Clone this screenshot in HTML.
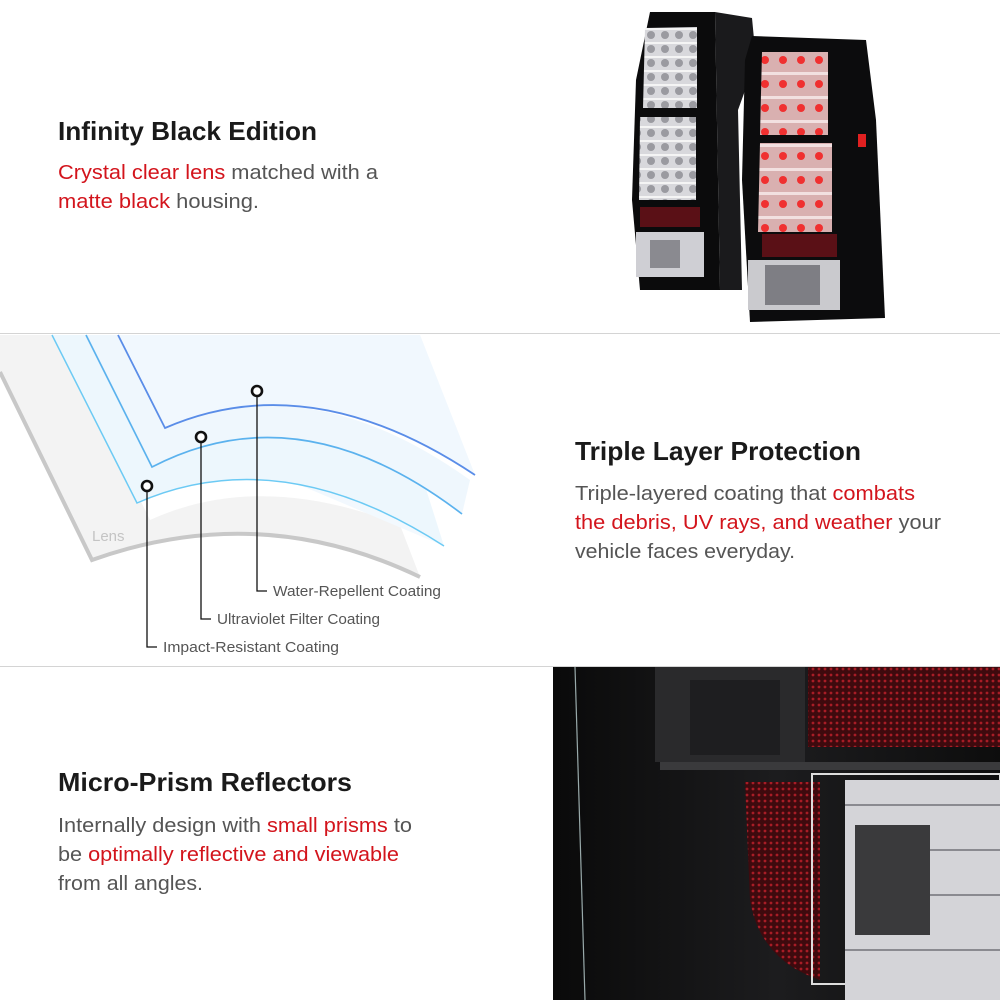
<!DOCTYPE html>
<html><head><meta charset="utf-8"><style>
html,body{margin:0;padding:0;background:#fff}
svg{display:block}
.h{font-family:"Liberation Sans",sans-serif;font-size:26px;font-weight:bold;fill:#1a1a1a}
.b{font-family:"Liberation Sans",sans-serif;font-size:20.5px;fill:#555}
.r{fill:#d3141c}
.l{font-family:"Liberation Sans",sans-serif;font-size:15px;fill:#555}
</style></head><body>
<svg width="1000" height="1000" viewBox="0 0 1000 1000">
<defs>
<linearGradient id="bl" x1="0" y1="0" x2="1" y2="0"><stop offset="0" stop-color="#eaf5fd"/><stop offset="1" stop-color="#f5fafe"/></linearGradient>
<linearGradient id="dk" x1="0" y1="0" x2="1" y2="0"><stop offset="0" stop-color="#0a0a0a"/><stop offset="0.5" stop-color="#1c1c1e"/><stop offset="1" stop-color="#0d0d0d"/></linearGradient>
<pattern id="rd" width="6" height="6" patternUnits="userSpaceOnUse"><rect width="6" height="6" fill="#3e0a0e"/><circle cx="3" cy="3" r="1.4" fill="#a81c26"/></pattern>
<pattern id="cl" width="14" height="14" patternUnits="userSpaceOnUse"><rect width="14" height="14" fill="#d8d8dc"/><circle cx="7" cy="7" r="4" fill="#9a9aa0"/><rect x="0" y="0" width="14" height="2" fill="#f4f4f4"/></pattern>
<pattern id="ld" width="18" height="24" patternUnits="userSpaceOnUse"><rect width="18" height="24" fill="#d9b0b0"/><circle cx="9" cy="12" r="4" fill="#f03030"/><rect y="0" width="18" height="3" fill="#f2e0e0"/></pattern>
</defs>

<text class="h" x="58" y="140" textLength="259" lengthAdjust="spacingAndGlyphs">Infinity Black Edition</text>
<text class="b" x="58" y="179" textLength="320" lengthAdjust="spacingAndGlyphs"><tspan class="r">Crystal clear lens</tspan> matched with a</text>
<text class="b" x="58" y="208" textLength="201" lengthAdjust="spacingAndGlyphs"><tspan class="r">matte black</tspan> housing.</text>

<path d="M650,12 L715,12 L720,290 L640,290 L632,200 L636,80 Z" fill="#0b0b0c"/>
<path d="M715,12 L752,18 L756,60 L738,110 L742,290 L720,290 Z" fill="#1a1a1c"/>
<path d="M645,28 L697,27 L697,108 L643,108 Z" fill="url(#cl)"/>
<path d="M640,117 L696,117 L696,200 L639,200 Z" fill="url(#cl)"/>
<rect x="640" y="207" width="60" height="20" fill="#5a1016"/>
<rect x="636" y="232" width="68" height="45" fill="#cfcfd4"/>
<rect x="650" y="240" width="30" height="28" fill="#8a8a90"/>
<path d="M752,36 L866,40 L876,120 L885,318 L750,322 L742,180 L745,60 Z" fill="#0c0c0d"/>
<path d="M762,52 L828,52 L828,135 L760,135 Z" fill="url(#ld)"/>
<path d="M760,143 L832,143 L832,232 L758,232 Z" fill="url(#ld)"/>
<rect x="858" y="134" width="8" height="13" fill="#e02020"/>
<rect x="762" y="234" width="75" height="23" fill="#5a1016"/>
<rect x="748" y="260" width="92" height="50" fill="#cacace"/>
<rect x="765" y="265" width="55" height="40" fill="#7e7e84"/>

<line x1="0" y1="333.5" x2="1000" y2="333.5" stroke="#d4d4d4" stroke-width="1"/>

<path d="M0,335 L60,335 L150,520 Q260,470 400,525 L420,577 Q260,500 92,560 L0,372 Z" fill="#f3f3f3"/>
<path d="M0,372 L92,560 Q260,500 420,577" fill="none" stroke="#c8c8c8" stroke-width="4"/>
<path d="M52,335 L420,335 L475,475 Q310,360 165,428 L444,546 Q280,440 137,503 Z" fill="url(#bl)"/>
<path d="M52,335 L137,503 Q280,440 444,546 L420,470 Q300,390 152,467 L86,335 Z" fill="#edf7fd"/>
<path d="M86,335 L152,467 Q300,390 462,514 L470,480 Q310,365 165,428 L118,335 Z" fill="#eff7fd"/>
<path d="M118,335 L165,428 Q310,365 475,475 L420,335 Z" fill="#f1f8fe"/>
<path d="M52,335 L137,503 Q280,440 444,546" fill="none" stroke="#6ccaf4" stroke-width="1.5"/>
<path d="M86,335 L152,467 Q300,390 462,514" fill="none" stroke="#5bb2ee" stroke-width="1.7"/>
<path d="M118,335 L165,428 Q310,365 475,475" fill="none" stroke="#5a8de8" stroke-width="1.8"/>
<text x="92" y="541" font-family="Liberation Sans,sans-serif" font-size="15" fill="#c4c4c4">Lens</text>

<g fill="none" stroke="#111" stroke-width="1.3">
<path d="M257,396 V591 H267"/>
<path d="M201,442 V619 H211"/>
<path d="M147,491 V647 H157"/>
</g>
<g fill="#fff" stroke="#111" stroke-width="2.6">
<circle cx="257" cy="391" r="5"/>
<circle cx="201" cy="437" r="5"/>
<circle cx="147" cy="486" r="5"/>
</g>
<text class="l" x="273" y="596" textLength="168" lengthAdjust="spacingAndGlyphs">Water-Repellent Coating</text>
<text class="l" x="217" y="624" textLength="163" lengthAdjust="spacingAndGlyphs">Ultraviolet Filter Coating</text>
<text class="l" x="163" y="652" textLength="176" lengthAdjust="spacingAndGlyphs">Impact-Resistant Coating</text>

<text class="h" x="575" y="460" textLength="286" lengthAdjust="spacingAndGlyphs">Triple Layer Protection</text>
<text class="b" x="575" y="500" textLength="340" lengthAdjust="spacingAndGlyphs">Triple-layered coating that <tspan class="r">combats</tspan></text>
<text class="b" x="575" y="529" textLength="366" lengthAdjust="spacingAndGlyphs"><tspan class="r">the debris, UV rays, and weather</tspan> your</text>
<text class="b" x="575" y="558" textLength="220" lengthAdjust="spacingAndGlyphs">vehicle faces everyday.</text>

<line x1="0" y1="666.5" x2="1000" y2="666.5" stroke="#d4d4d4" stroke-width="1"/>

<rect x="553" y="667" width="447" height="333" fill="url(#dk)"/>
<line x1="575" y1="667" x2="585" y2="1000" stroke="#9aa" stroke-width="1.2"/>
<rect x="655" y="667" width="150" height="95" fill="#2a2a2c"/>
<rect x="690" y="680" width="90" height="75" fill="#1e1e20"/>
<rect x="808" y="667" width="192" height="80" fill="url(#rd)"/>
<rect x="660" y="762" width="340" height="8" fill="#3a3a3c"/>
<path d="M745,782 L820,782 L820,980 Q760,960 750,900 Z" fill="url(#rd)"/>
<rect x="812" y="774" width="188" height="210" fill="none" stroke="#ddd" stroke-width="2"/>
<rect x="845" y="780" width="155" height="220" fill="#d4d4d8"/>
<rect x="855" y="825" width="75" height="110" fill="#3a3a3c"/>
<g stroke="#8a8a90" stroke-width="2">
<line x1="845" y1="805" x2="1000" y2="805"/><line x1="930" y1="850" x2="1000" y2="850"/><line x1="930" y1="895" x2="1000" y2="895"/><line x1="845" y1="950" x2="1000" y2="950"/>
</g>

<text class="h" x="58" y="791" textLength="294" lengthAdjust="spacingAndGlyphs">Micro-Prism Reflectors</text>
<text class="b" x="58" y="832" textLength="354" lengthAdjust="spacingAndGlyphs">Internally design with <tspan class="r">small prisms</tspan> to</text>
<text class="b" x="58" y="861" textLength="341" lengthAdjust="spacingAndGlyphs">be <tspan class="r">optimally reflective and viewable</tspan></text>
<text class="b" x="58" y="890" textLength="145" lengthAdjust="spacingAndGlyphs">from all angles.</text>
</svg>
</body></html>
